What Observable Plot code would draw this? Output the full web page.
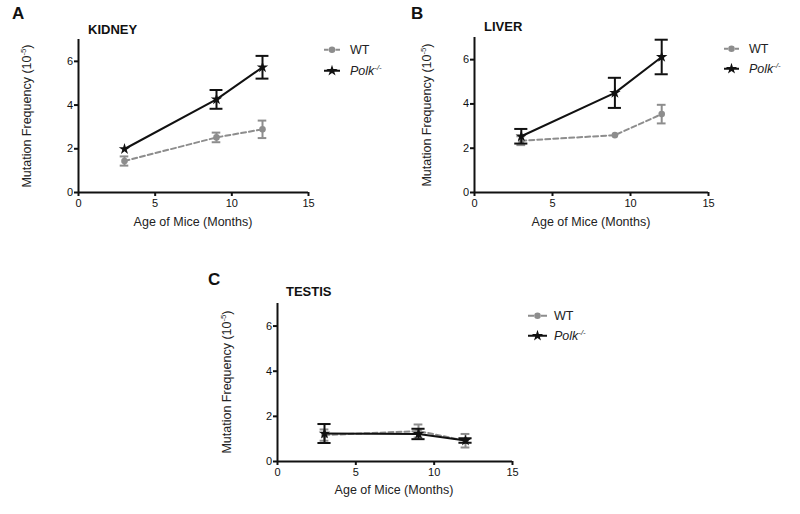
<!DOCTYPE html>
<html><head><meta charset="utf-8">
<script src="https://cdn.jsdelivr.net/npm/d3@7"></script>
<script src="https://cdn.jsdelivr.net/npm/@observablehq/plot@0.6"></script>
<style>
html,body{margin:0;padding:0;background:#fff;}
#root{position:relative;width:800px;height:514px;overflow:hidden;background:#fff;font-family:"Liberation Sans",Arial,sans-serif;color:#111;}
.t{position:absolute;white-space:nowrap;line-height:1;}
.c{transform:translate(-50%,-50%);}
.r{transform:translate(-50%,-50%) rotate(-90deg);}
.leg{position:absolute;display:flex;align-items:center;font-size:12.5px;line-height:1;white-space:nowrap;transform:translateY(-50%);}
sup{font-size:0.62em;vertical-align:0.6em;line-height:0;}
</style></head><body><div id="root"></div><script>
// ---- data ----
const ages = [3, 9, 12];
const tissues = ["KIDNEY", "LIVER", "TESTIS"];
const genotypes = ["WT", "Polk-/-"];
const kidneyWT = [1.44, 2.52, 2.89];
const kidneyWTErr = [0.21, 0.22, 0.40];
const kidneyPolk = [1.99, 4.26, 5.73];
const kidneyPolkErr = [0, 0.43, 0.52];
const liverWT = [2.34, 2.59, 3.54];
const liverWTErr = [0.20, 0, 0.42];
const liverPolk = [2.54, 4.50, 6.12];
const liverPolkErr = [0.33, 0.68, 0.78];
const testisWT = [1.17, 1.35, 0.92];
const testisWTErr = [0.25, 0.29, 0.30];
const testisPolk = [1.24, 1.22, 0.93];
const testisPolkErr = [0.42, 0.23, 0.10];
const xTicks = [0, 5, 10, 15];
const yTicks = [0, 2, 4, 6];
const panelLetters = ["A", "B", "C"];
const xLabel = "Age of Mice (Months)";

const series = {
  KIDNEY: {"WT": [kidneyWT, kidneyWTErr], "Polk-/-": [kidneyPolk, kidneyPolkErr]},
  LIVER: {"WT": [liverWT, liverWTErr], "Polk-/-": [liverPolk, liverPolkErr]},
  TESTIS: {"WT": [testisWT, testisWTErr], "Polk-/-": [testisPolk, testisPolkErr]}
};
const rows = [];
for (const t of tissues) for (const g of genotypes) {
  const [m, e] = series[t][g];
  ages.forEach((a, i) => rows.push({tissue: t, genotype: g, age: a, mean: m[i], err: e[i]}));
}

// ---- styles / layout ----
const GRAY = "#8d8d8d", BLACK = "#111";
const layout = {
  KIDNEY: {left: 0, top: 0, width: 320, height: 240, ml: 78, mr: 12, mt: 39, mb: 48,
    letter: [12, 5], title: [88, 22.5], ylab: [27, 115.5], xlab: [193, 222],
    leg: {x: 324, w: 16, tx: 350, y: [50, 70.5]}},
  LIVER: {left: 400, top: 0, width: 320, height: 240, ml: 74, mr: 12, mt: 37, mb: 48,
    letter: [411, 5], title: [484, 20], ylab: [427, 114.5], xlab: [591, 222],
    leg: {x: 724, w: 15, tx: 749, y: [49, 68.5]}},
  TESTIS: {left: 200, top: 260, width: 320, height: 254, ml: 77, mr: 8, mt: 43, mb: 53,
    letter: [208, 270.5], title: [286, 285], ylab: [227, 382], xlab: [394, 490],
    leg: {x: 528, w: 19, tx: 554, y: [316, 336]}}
};

const root = document.getElementById("root");
function addText(html, x, y, cls, style) {
  const d = document.createElement("div");
  d.className = "t " + (cls || "");
  d.style.left = x + "px"; d.style.top = y + "px";
  Object.assign(d.style, style || {});
  d.innerHTML = html;
  root.appendChild(d);
}
const starPath = d3.symbol(d3.symbolStar, Math.PI * 3.6 * 3.6)();

function errMarks(data, color, half) {
  const e = data.filter(d => d.err > 0);
  return [
    Plot.ruleX(e, {x: "age", y1: d => d.mean - d.err, y2: d => d.mean + d.err, stroke: color, strokeWidth: 2}),
    Plot.ruleY(e, {y: d => d.mean + d.err, x1: d => d.age - half, x2: d => d.age + half, stroke: color, strokeWidth: 2}),
    Plot.ruleY(e, {y: d => d.mean - d.err, x1: d => d.age - half, x2: d => d.age + half, stroke: color, strokeWidth: 2})
  ];
}

tissues.forEach((t, k) => {
  const L = layout[t];
  const wt = rows.filter(d => d.tissue === t && d.genotype === "WT");
  const pk = rows.filter(d => d.tissue === t && d.genotype === "Polk-/-");
  const svg = Plot.plot({
    width: L.width, height: L.height,
    marginLeft: L.ml, marginRight: L.mr, marginTop: L.mt, marginBottom: L.mb,
    x: {domain: [0, 15]},
    y: {domain: [0, 7]},
    style: {fontFamily: "Liberation Sans, Arial, sans-serif", fontSize: "11px", color: BLACK, background: "transparent", overflow: "visible",
      position: "absolute", left: L.left + "px", top: L.top + "px"},
    marks: [
      Plot.axisX({ticks: xTicks, tickFormat: "d", tickSize: 4, tickPadding: 3, strokeWidth: 2, fontSize: 11, label: null}),
      Plot.axisY({ticks: yTicks, tickFormat: "d", tickSize: 4, tickPadding: 1.5, strokeWidth: 2, fontSize: 11, label: null}),
      Plot.ruleX([0], {stroke: BLACK, strokeWidth: 2}),
      Plot.ruleY([0], {stroke: BLACK, strokeWidth: 2}),
      ...errMarks(wt, GRAY, 0.28),
      Plot.line(wt, {x: "age", y: "mean", stroke: GRAY, strokeWidth: 2, strokeDasharray: "5,3"}),
      Plot.dot(wt, {x: "age", y: "mean", r: 3.3, fill: GRAY, stroke: null}),
      ...errMarks(pk, BLACK, 0.42),
      Plot.line(pk, {x: "age", y: "mean", stroke: BLACK, strokeWidth: 2}),
      Plot.dot(pk, {x: "age", y: "mean", symbol: "star", r: 3.6, fill: BLACK, stroke: null})
    ]
  });
  svg.style.position = "absolute";
  svg.style.left = L.left + "px";
  svg.style.top = L.top + "px";
  root.appendChild(svg);

  addText(panelLetters[k], L.letter[0], L.letter[1], "", {fontSize: "17px", fontWeight: "bold"});
  addText(t, L.title[0], L.title[1], "", {fontSize: "13px", fontWeight: "bold"});
  addText("Mutation Frequency (10<sup>-5</sup>)", L.ylab[0], L.ylab[1], "r", {fontSize: "12.5px", color: "#222"});
  addText(xLabel, L.xlab[0], L.xlab[1], "c", {fontSize: "12.5px", color: "#222"});

  // legend
  genotypes.forEach((g, j) => {
    const row = document.createElement("div");
    row.className = "leg";
    row.style.left = L.leg.x + "px";
    row.style.top = L.leg.y[j] + "px";
    const w = L.leg.w, c = w / 2;
    const sym = g === "WT"
      ? `<svg width="${w}" height="12" style="display:block"><line x1="0" y1="6" x2="${c - 3.5}" y2="6" stroke="${GRAY}" stroke-width="2"/><line x1="${c + 3.5}" y1="6" x2="${w}" y2="6" stroke="${GRAY}" stroke-width="2"/><circle cx="${c}" cy="6" r="3.3" fill="${GRAY}"/></svg>`
      : `<svg width="${w}" height="12" style="display:block"><line x1="0" y1="6" x2="${w}" y2="6" stroke="${BLACK}" stroke-width="2"/><path transform="translate(${c},6)" d="${starPath}" fill="${BLACK}"/></svg>`;
    const label = g === "WT" ? "WT" : "<i>Polk<sup>-/-</sup></i>";
    row.innerHTML = sym + `<span style="margin-left:${L.leg.tx - L.leg.x - w}px;color:#222">${label}</span>`;
    root.appendChild(row);
  });
});
</script></body></html>
